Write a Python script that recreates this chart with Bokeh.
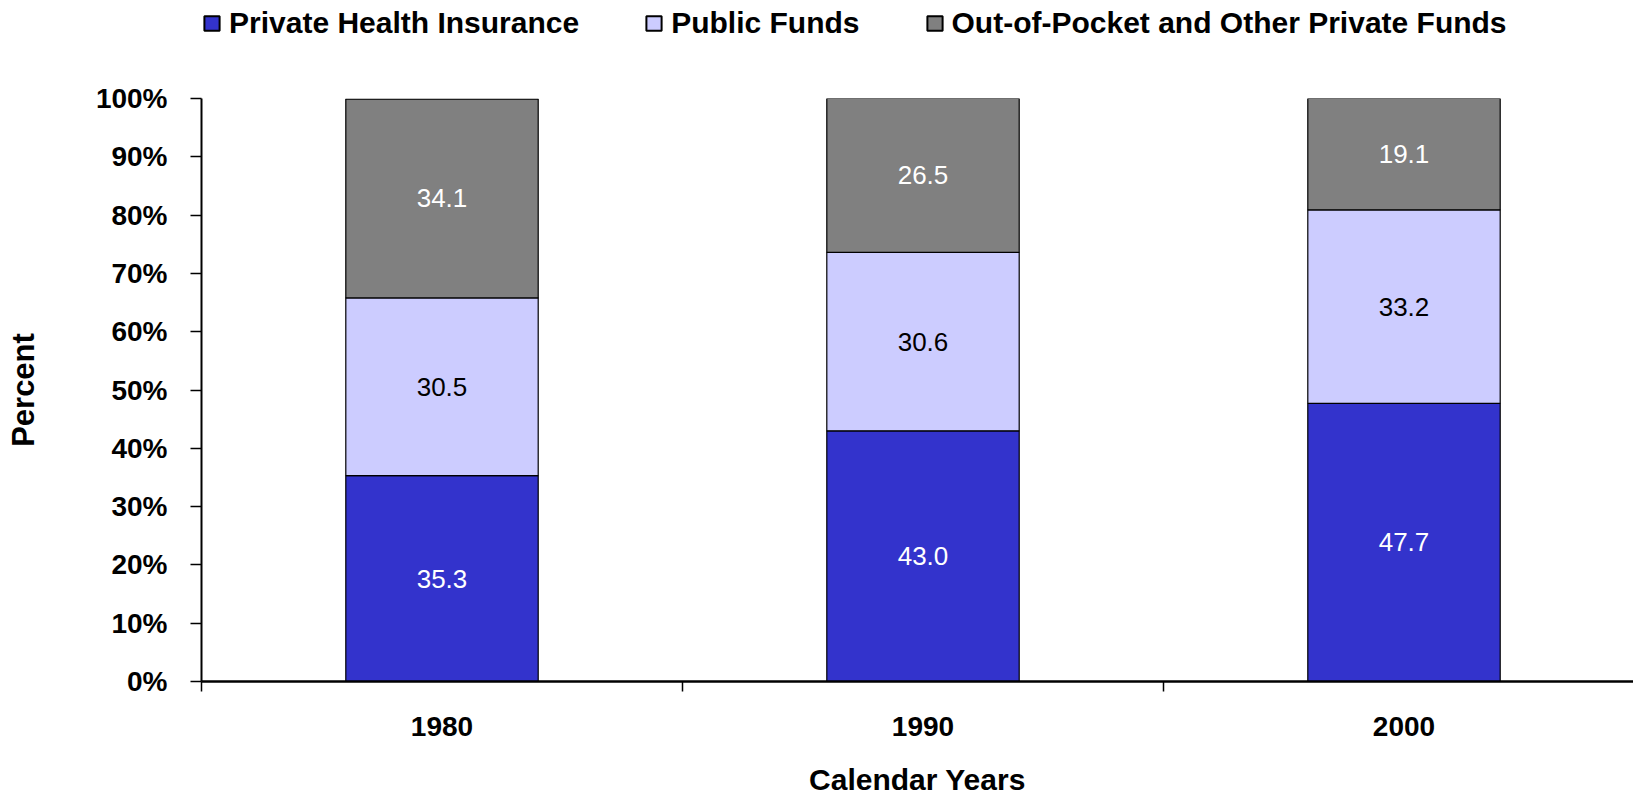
from bokeh.plotting import figure
from bokeh.layouts import column
from bokeh.models import ColumnDataSource, FixedTicker, Legend, LegendItem, Range1d, PrintfTickFormatter
from bokeh.core.properties import value
from bokeh.embed import file_html
from bokeh.resources import INLINE

years = ["1980", "1990", "2000"]
private_ins = [35.3, 43.0, 47.7]
public_funds = [30.5, 30.6, 33.2]
out_of_pocket = [34.1, 26.5, 19.1]
series_names = ["Private Health Insurance", "Public Funds", "Out-of-Pocket and Other Private Funds"]
colors = ["#3333CC", "#CCCCFF", "#808080"]
label_colors = ["white", "black", "white"]
y_ticks = [0, 10, 20, 30, 40, 50, 60, 70, 80, 90, 100]

FONT = "Liberation Sans"
W = 1633
LEG_H = 60
H = 798 - LEG_H
TOP, BOTTOM, LEFT = 38, 116, 201

xc = [i + 0.5 for i in range(len(years))]
series = [private_ins, public_funds, out_of_pocket]
x_end = (W - LEFT) / 481.0

# ---- legend strip (its bars are hidden; only the legend shows) ----
lg = figure(width=W, height=LEG_H, output_backend="svg", toolbar_location=None,
            x_range=Range1d(0, x_end), y_range=Range1d(1000, 1100),
            min_border=0, x_axis_type=None, y_axis_type=None)
lg.title.visible = False
lg.outline_line_color = None
lg.xgrid.visible = False
lg.ygrid.visible = False
leg_renderers = []
for vals, col in zip(series, colors):
    r = lg.vbar(x=xc, top=vals, width=0.4, fill_color=col, line_color="black", line_width=2)
    r.visible = False
    leg_renderers.append(r)
legend = Legend(items=[LegendItem(label=n, renderers=[r]) for n, r in zip(series_names, leg_renderers)],
                orientation="horizontal", location=(1, 20), padding=0, margin=0,
                glyph_width=19, glyph_height=18, label_standoff=8, spacing=65,
                label_text_font=FONT, label_text_font_style="bold", label_text_font_size="30px",
                label_text_color="black", label_text_baseline="alphabetic",
                inactive_fill_alpha=0, click_policy="none",
                background_fill_alpha=0, border_line_color=None, label_height=18)
lg.add_layout(legend, "center")

# ---- main chart ----
p = figure(width=W, height=H, output_backend="svg", toolbar_location=None,
           x_range=Range1d(0, x_end), y_range=Range1d(0, 100),
           min_border_left=LEFT, min_border_right=0, min_border_top=TOP, min_border_bottom=BOTTOM)
p.title.visible = False
p.outline_line_color = None
p.xgrid.grid_line_color = None
p.ygrid.grid_line_color = None

bottoms = [0.0] * len(years)
for vals, col, lcol in zip(series, colors, label_colors):
    tops = [b + v for b, v in zip(bottoms, vals)]
    mids = [(b + t) / 2 for b, t in zip(bottoms, tops)]
    src = ColumnDataSource(dict(x=xc, bottom=bottoms, top=tops, mid=mids,
                                lbl=["%.1f" % v for v in vals]))
    p.vbar(x="x", bottom="bottom", top="top", width=0.4, source=src,
           fill_color=col, line_color="black", line_width=1.2)
    p.text(x="x", y="mid", text="lbl", source=src, text_align="center", text_baseline="middle",
           text_color=lcol, text_font=value(FONT), text_font_size="26px")
    bottoms = tops

# y axis
p.yaxis.ticker = FixedTicker(ticks=y_ticks)
p.yaxis.formatter = PrintfTickFormatter(format="%d%%")
p.yaxis.major_tick_out = 11
p.yaxis.major_tick_in = 0
p.yaxis.minor_tick_line_color = None
p.yaxis.axis_line_width = 2
p.yaxis.major_tick_line_width = 1.5
p.yaxis.major_label_standoff = 23
p.yaxis.major_label_text_font = FONT
p.yaxis.major_label_text_font_style = "bold"
p.yaxis.major_label_text_font_size = "28px"
p.yaxis.major_label_text_color = "black"
p.yaxis.axis_label = "Percent"
p.yaxis.axis_label_text_font = FONT
p.yaxis.axis_label_text_font_style = "bold"
p.yaxis.axis_label_text_font_size = "31px"
p.yaxis.axis_label_text_color = "black"
p.yaxis.axis_label_standoff = 52

# x axis
p.xaxis.ticker = FixedTicker(ticks=xc, minor_ticks=list(range(len(years) + 1)))
p.xaxis.major_label_overrides = {x: y for x, y in zip(xc, years)}
p.xaxis.major_tick_out = 0
p.xaxis.major_tick_in = 0
p.xaxis.minor_tick_out = 10
p.xaxis.minor_tick_in = 0
p.xaxis.minor_tick_line_color = "black"
p.xaxis.minor_tick_line_width = 1.5
p.xaxis.axis_line_width = 2.5
p.xaxis.major_label_standoff = 25
p.xaxis.major_label_text_font = FONT
p.xaxis.major_label_text_font_style = "bold"
p.xaxis.major_label_text_font_size = "28px"
p.xaxis.major_label_text_color = "black"
p.xaxis.axis_label = "Calendar Years"
p.xaxis.axis_label_text_font = FONT
p.xaxis.axis_label_text_font_style = "bold"
p.xaxis.axis_label_text_font_size = "30px"
p.xaxis.axis_label_text_color = "black"
p.xaxis.axis_label_standoff = 24

layout = column(lg, p, spacing=0)
open("out.html", "w").write(file_html(layout, INLINE))
